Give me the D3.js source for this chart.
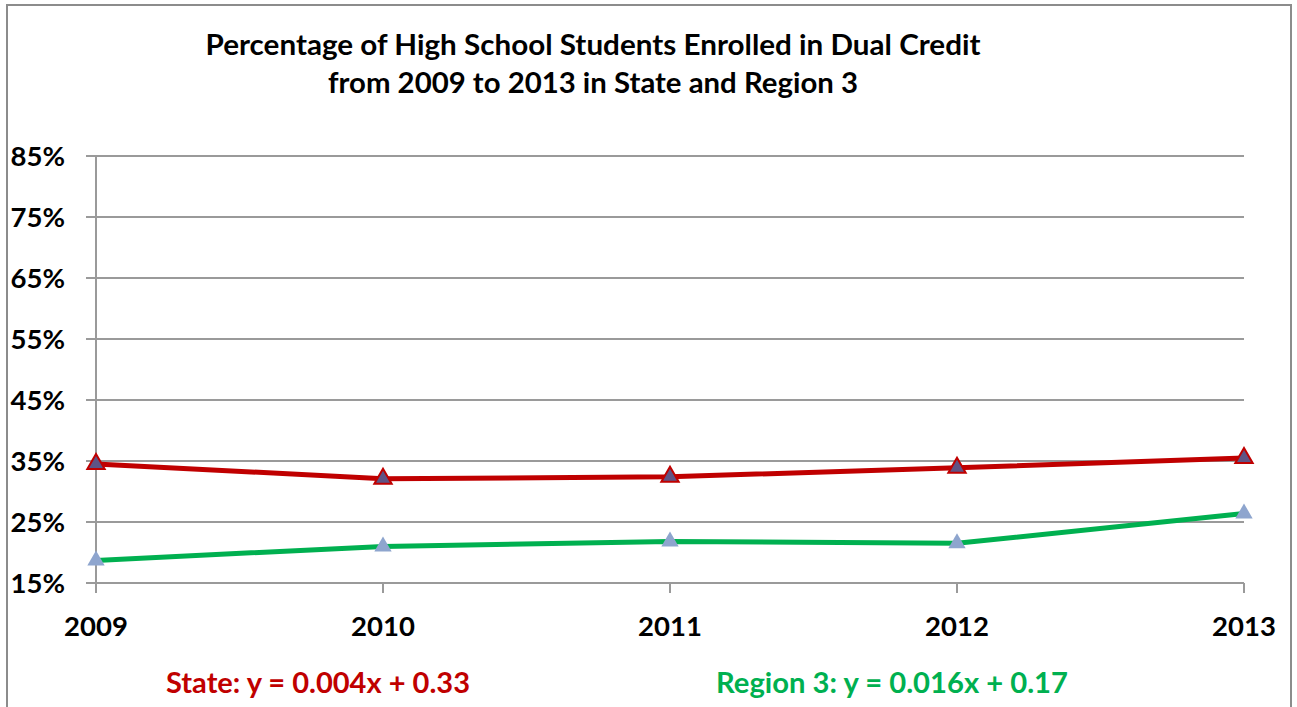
<!DOCTYPE html>
<html>
<head>
<meta charset="utf-8">
<script src="https://cdn.jsdelivr.net/npm/d3@7"></script>
<style>
  html, body { margin: 0; padding: 0; background: #fff; }
  svg { display: block; }
  text { font-family: Lato, "Open Sans", sans-serif; font-weight: bold; }
</style>
</head>
<body>
<svg id="chart" width="1297" height="707"></svg>
<script>
const years = ["2009", "2010", "2011", "2012", "2013"];
const stateValues = [0.345, 0.321, 0.324, 0.339, 0.355];
const regionValues = [0.187, 0.210, 0.218, 0.215, 0.264];
const yTicks = [0.15, 0.25, 0.35, 0.45, 0.55, 0.65, 0.75, 0.85];
const titleLines = ["Percentage of High School Students Enrolled in Dual Credit", "from 2009 to 2013 in State and Region 3"];
const stateEquation = "State: y = 0.004x + 0.33";
const regionEquation = "Region 3: y = 0.016x + 0.17";

(function () {
const svg = d3.select("#chart");
const pl = 96, pr = 1244, pt = 156, pb = 583;

// outer frame
svg.append("rect").attr("x", 7).attr("y", 5).attr("width", 1284).attr("height", 720)
  .attr("fill", "#fff").attr("stroke", "#8c8c8c").attr("stroke-width", 2);

const x = d3.scalePoint().domain(years).range([pl, pr]);
const y = d3.scaleLinear().domain([0.15, 0.85]).range([pb, pt]);

// gridlines
svg.append("g").selectAll("line").data(yTicks).join("line")
  .attr("x1", pl - 10).attr("x2", pr)
  .attr("y1", d => y(d)).attr("y2", d => y(d))
  .attr("stroke", "#9a9a9a").attr("stroke-width", 2);

// y axis line
svg.append("line").attr("x1", pl).attr("x2", pl).attr("y1", pt).attr("y2", pb + 10)
  .attr("stroke", "#9a9a9a").attr("stroke-width", 2);

// x axis ticks
svg.append("g").selectAll("line").data(years).join("line")
  .attr("x1", d => x(d)).attr("x2", d => x(d))
  .attr("y1", pb).attr("y2", pb + 10)
  .attr("stroke", "#9a9a9a").attr("stroke-width", 2);

// y tick labels
svg.append("g").selectAll("text").data(yTicks).join("text")
  .attr("x", 65).attr("y", d => y(d)).attr("dy", "0.36em")
  .attr("text-anchor", "end").attr("font-size", 27.5).attr("fill", "#000")
  .text(d => Math.round(d * 100) + "%");

// x tick labels
svg.append("g").selectAll("text").data(years).join("text")
  .attr("x", d => x(d)).attr("y", 636)
  .attr("text-anchor", "middle").attr("font-size", 27.5).attr("fill", "#000")
  .text(d => d);

// title
const titleWidths = [775, 530];
svg.append("g").selectAll("text").data(titleLines).join("text")
  .attr("x", 593).attr("y", (d, i) => 55 + i * 38)
  .attr("text-anchor", "middle").attr("font-size", 28).attr("fill", "#000")
  .attr("textLength", (d, i) => titleWidths[i]).attr("lengthAdjust", "spacingAndGlyphs")
  .text(d => d);

const line = d3.line().x((d, i) => x(years[i])).y(d => y(d));
const tri = d3.symbol().type(d3.symbolTriangle).size(130);

function series(values, color, markerFill, markerStroke) {
  svg.append("path").datum(values).attr("d", line)
    .attr("fill", "none").attr("stroke", color).attr("stroke-width", 5)
    .attr("stroke-linejoin", "round");
  svg.append("g").selectAll("path").data(values).join("path")
    .attr("d", tri)
    .attr("transform", (d, i) => `translate(${x(years[i])},${y(d)})`)
    .attr("fill", markerFill)
    .attr("stroke", markerStroke || "none").attr("stroke-width", 2);
}
series(regionValues, "#00B050", "#8EA5CE", null);
series(stateValues, "#C00000", "#5F5485", "#C00000");

// equations
svg.append("text").attr("x", 166).attr("y", 693).attr("font-size", 28)
  .attr("textLength", 304).attr("lengthAdjust", "spacingAndGlyphs")
  .attr("fill", "#C00000").text(stateEquation);
svg.append("text").attr("x", 716).attr("y", 693).attr("font-size", 28)
  .attr("textLength", 352).attr("lengthAdjust", "spacingAndGlyphs")
  .attr("fill", "#00B050").text(regionEquation);
})();
</script>
</body>
</html>
